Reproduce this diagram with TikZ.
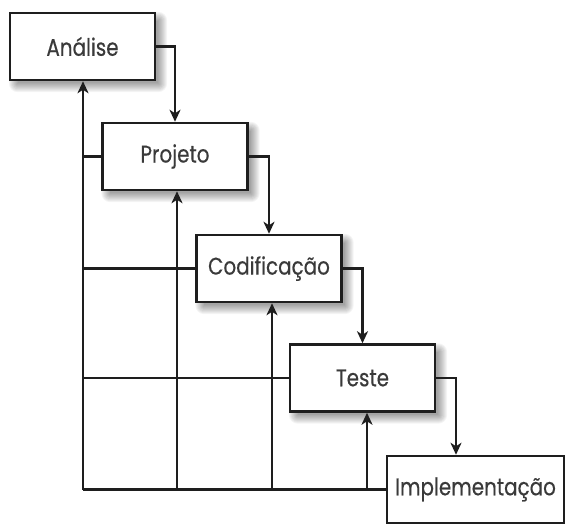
\documentclass[tikz,border=0pt]{standalone}
\usepackage{fontspec}
\newfontfamily\phasefont[FakeStretch=0.83, FakeBold=0.4]{Poppins}
\usetikzlibrary{arrows.meta,calc}

\definecolor{ink}{HTML}{1E1E1E}
\definecolor{labelgray}{HTML}{3A3A3A}

\tikzset{
  phase/.style={draw=ink, line width=2.5pt, fill=white, rectangle,
    minimum width=145pt, minimum height=67pt, inner sep=0pt,
    text=labelgray, font=\phasefont\fontsize{24}{28}\selectfont},
  flow/.style={draw=ink, line width=2.3pt},
  arr/.style={flow, -{Stealth[length=12pt,width=11pt,inset=3.5pt]}}
}

% soft shadow below and to the right of a phase box
\newcommand\phaseshadow[1]{%
  \foreach \r in {0,1,...,9}{%
    \fill[black, opacity=0.045, rounded corners=\r pt]
      ($(#1.north west)+(8-\r,8-\r)$) rectangle
      ($(#1.south east)+(3+\r,3+\r)$);
  }%
}

\begin{document}
\begin{tikzpicture}[x=1pt, y=-1pt]
  \useasboundingbox (0,0) rectangle (565,524);

  % shadow shapes, at the places of the phase boxes below
  \path (82.5,46.5)  node[minimum width=145pt, minimum height=67pt, inner sep=0pt] (sA) {};
  \path (175,156.5)  node[minimum width=145pt, minimum height=67pt, inner sep=0pt] (sP) {};
  \path (269,268.5)  node[minimum width=145pt, minimum height=67pt, inner sep=0pt] (sC) {};
  \path (362.5,378)  node[minimum width=145pt, minimum height=67pt, inner sep=0pt] (sT) {};
  \phaseshadow{sA}
  \phaseshadow{sP}
  \phaseshadow{sC}
  \phaseshadow{sT}

  % the five phases, each one step down and to the right
  \node[phase] (A) at (82.5,46.5)  {\raisebox{-2pt}{Análise}};
  \node[phase] (P) at (175,156.5)  {\raisebox{-2pt}{Projeto}};
  \node[phase] (C) at (269,268.5)  {\raisebox{-2pt}{Codificação}};
  \node[phase] (T) at (362.5,378)  {\raisebox{-2pt}{Teste}};
  \node[phase, minimum width=177pt] (I) at (475.5,489.5) {\raisebox{-2pt}{Implementação}};

  % forward flow: out of the right side, down into the next phase
  \coordinate (tdrop) at (456,0);
  \draw[arr] (A.east) -| (P.north);
  \draw[arr] (P.east) -| (C.north);
  \draw[arr] (C.east) -| (T.north);
  \draw[arr] (T.east) -| (tdrop |- I.north);

  % feedback paths back to earlier phases
  \coordinate (b0) at (83,489.5);
  \coordinate (b1) at (177,489.5);
  \coordinate (b2) at (272,489.5);
  \coordinate (b3) at (367,489.5);
  \draw[flow] (I.west) -- (b0);
  \draw[arr] (b0) -- (b0 |- A.south);
  \draw[arr] (b1) -- (b1 |- P.south);
  \draw[arr] (b2) -- (b2 |- C.south);
  \draw[arr] (b3) -- (b3 |- T.south);
  \draw[flow] (b0 |- P.west) -- (P.west);
  \draw[flow] (b0 |- C.west) -- (C.west);
  \draw[flow] (b0 |- T.west) -- (T.west);
\end{tikzpicture}
\end{document}
